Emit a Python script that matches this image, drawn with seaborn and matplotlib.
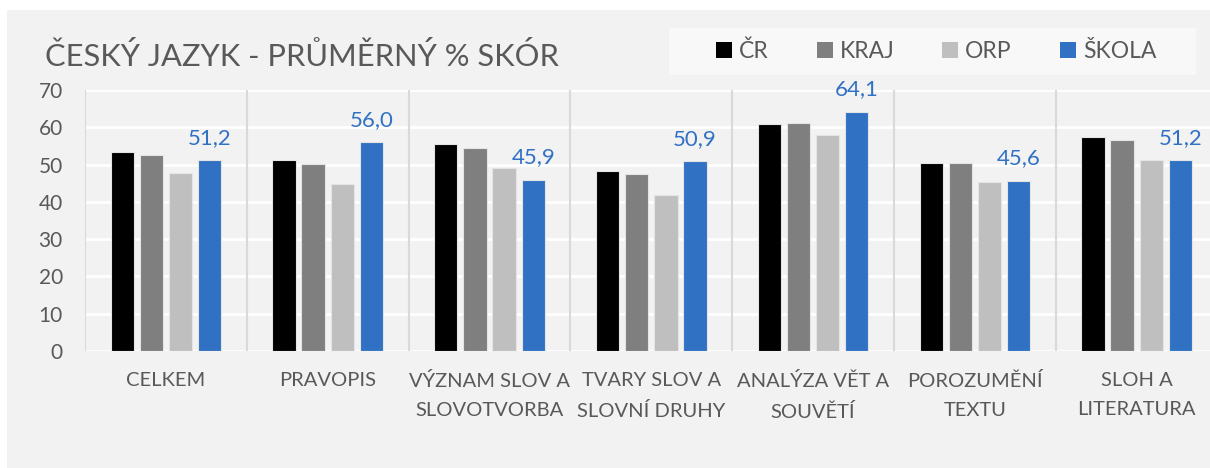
import numpy as np
import pandas as pd
import matplotlib
matplotlib.use("Agg")
import matplotlib.pyplot as plt
from matplotlib.patches import Rectangle
import seaborn as sns

# ── data ──────────────────────────────────────────────────────────────────────
CATEGORIES = [
    "CELKEM", "PRAVOPIS", "VÝZNAM SLOV A\nSLOVOTVORBA", "TVARY SLOV A\nSLOVNÍ DRUHY",
    "ANALÝZA VĚT A\nSOUVĚTÍ", "POROZUMĚNÍ\nTEXTU", "SLOH A\nLITERATURA",
]
SERIES = ["ČR", "KRAJ", "ORP", "ŠKOLA"]
CR    = [53.4, 51.1, 55.5, 48.3, 61.0, 50.5, 57.3]
KRAJ  = [52.7, 50.1, 54.4, 47.4, 61.2, 50.3, 56.5]
ORP   = [47.8, 44.7, 49.1, 41.8, 57.8, 45.3, 51.2]
SKOLA = [51.2, 56.0, 45.9, 50.9, 64.1, 45.6, 51.2]
Y_TICKS = [0, 10, 20, 30, 40, 50, 60, 70]
TITLE = "ČESKÝ JAZYK - PRŮMĚRNÝ % SKÓR"

COLORS = ["#000000", "#7f7f7f", "#bfbfbf", "#3171c4"]
TXT = "#595959"

df = pd.DataFrame({
    "kategorie": CATEGORIES * len(SERIES),
    "serie": np.repeat(SERIES, len(CATEGORIES)),
    "hodnota": CR + KRAJ + ORP + SKOLA,
})

sns.set_style("white")
plt.rcParams["font.family"] = ["Lato", "DejaVu Sans"]

W, H = 1210, 468
fig = plt.figure(figsize=(W / 100, H / 100), dpi=100)
fig.patch.set_facecolor("white")
# grey chart panel
fig.patches.append(Rectangle((7 / W, 0), 1, (H - 10) / H, transform=fig.transFigure,
                             facecolor="#f2f2f2", edgecolor="none", zorder=-2))
# legend box
fig.patches.append(Rectangle((669 / W, 1 - 75 / H), (1196 - 669) / W, 47 / H,
                             transform=fig.transFigure, facecolor="#f8f8f8",
                             edgecolor="none", zorder=-1))

ax = fig.add_axes([85 / W, 117 / H, 7 * 161.8 / W, 261 / H])
ax.set_facecolor("#f2f2f2")

sns.barplot(data=df, x="kategorie", y="hodnota", hue="serie", palette=COLORS,
            saturation=1, width=0.72, gap=0.2, edgecolor="#e4e4e4", linewidth=0.8,
            ax=ax, legend=False, zorder=2)

ax.set_ylim(0, 70)
ax.set_xlim(-0.5, len(CATEGORIES) - 0.5)
ax.set_yticks(Y_TICKS)
ax.yaxis.grid(True, color="white", linewidth=2)
ax.set_axisbelow(True)
for b in np.arange(len(CATEGORIES) + 1) - 0.5:
    ax.axvline(b, color="#d9d9d9", linewidth=1.5, zorder=1)
for s in ax.spines.values():
    s.set_visible(False)
ax.set_xlabel("")
ax.set_ylabel("")
ax.tick_params(axis="y", length=0, pad=16, labelsize=15, labelcolor=TXT)
ax.tick_params(axis="x", length=0, pad=15, labelsize=14.5, labelcolor=TXT)
for lab in ax.get_xticklabels():
    lab.set_linespacing(1.85)

ax.bar_label(ax.containers[3], labels=[f"{v:.1f}".replace(".", ",") for v in SKOLA],
             padding=9, color=COLORS[3], fontsize=16)

fig.text(45 / W, 1 - 56 / H, TITLE, va="center", ha="left", fontsize=22.2, color=TXT)

handles = [Rectangle((0, 0), 1, 1, facecolor=c, edgecolor="none") for c in COLORS]
fig.legend(handles, SERIES, loc="center", bbox_to_anchor=(936 / W, 1 - 51 / H),
           ncol=4, frameon=False, fontsize=16.5, labelcolor=TXT,
           handlelength=0.7, handleheight=0.7, handletextpad=0.3, columnspacing=2.1)

fig.savefig("out.png", dpi=100)
